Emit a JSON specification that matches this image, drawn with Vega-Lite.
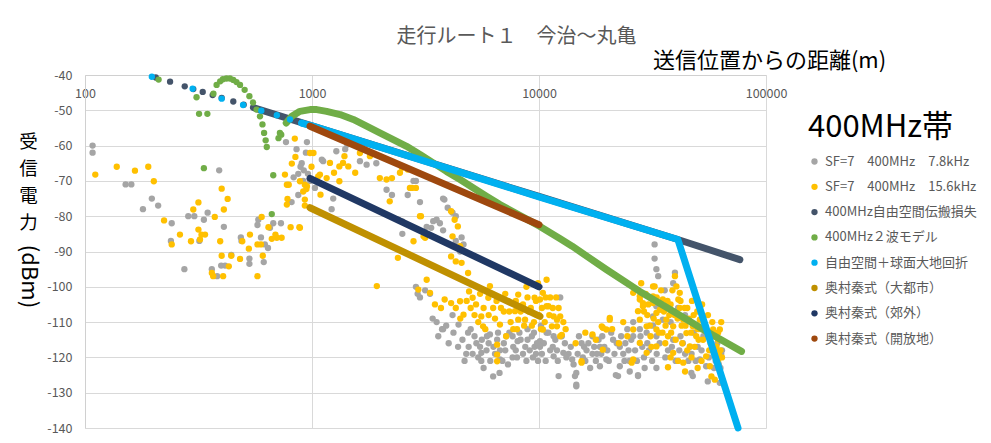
{
  "$schema": "https://vega.github.io/schema/vega-lite/v6.json",
  "width": 681,
  "height": 353,
  "autosize": {"type": "none"},
  "padding": {"left": 85, "top": 75, "right": 225, "bottom": 15},
  "background": "white",
  "config": {
    "font": "Noto Sans CJK JP",
    "view": {"stroke": null}
  },
  "title": {
    "text": "走行ルート１　今治～丸亀",
    "fontSize": 20,
    "fontWeight": "normal",
    "color": "#595959",
    "anchor": "middle",
    "dx": 91,
    "offset": 2
  },
  "datasets": {
    "measured": [
      {"s":"SF=7　400MHz　7.8kHz","d":108,"v":-60},{"s":"SF=7　400MHz　7.8kHz","d":108,"v":-62},{"s":"SF=7　400MHz　7.8kHz","d":151,"v":-71},{"s":"SF=7　400MHz　7.8kHz","d":160,"v":-71},{"s":"SF=7　400MHz　7.8kHz","d":180,"v":-78},{"s":"SF=7　400MHz　7.8kHz","d":197,"v":-75},{"s":"SF=7　400MHz　7.8kHz","d":210,"v":-77},{"s":"SF=7　400MHz　7.8kHz","d":241,"v":-82},{"s":"SF=7　400MHz　7.8kHz","d":239,"v":-87},{"s":"SF=7　400MHz　7.8kHz","d":274,"v":-95},{"s":"SF=7　400MHz　7.8kHz","d":285,"v":-80},{"s":"SF=7　400MHz　7.8kHz","d":303,"v":-80},{"s":"SF=7　400MHz　7.8kHz","d":319,"v":-87},{"s":"SF=7　400MHz　7.8kHz","d":334,"v":-81},{"s":"SF=7　400MHz　7.8kHz","d":347,"v":-79},{"s":"SF=7　400MHz　7.8kHz","d":390,"v":-67},{"s":"SF=7　400MHz　7.8kHz","d":409,"v":-83},{"s":"SF=7　400MHz　7.8kHz","d":398,"v":-94},{"s":"SF=7　400MHz　7.8kHz","d":414,"v":-94},{"s":"SF=7　400MHz　7.8kHz","d":362,"v":-95},{"s":"SF=7　400MHz　7.8kHz","d":382,"v":-97},{"s":"SF=7　400MHz　7.8kHz","d":441,"v":-91},{"s":"SF=7　400MHz　7.8kHz","d":486,"v":-86},{"s":"SF=7　400MHz　7.8kHz","d":489,"v":-87},{"s":"SF=7　400MHz　7.8kHz","d":530,"v":-92},{"s":"SF=7　400MHz　7.8kHz","d":530,"v":-93.5},{"s":"SF=7　400MHz　7.8kHz","d":613,"v":-93},{"s":"SF=7　400MHz　7.8kHz","d":580,"v":-81},{"s":"SF=7　400MHz　7.8kHz","d":575,"v":-82.5},{"s":"SF=7　400MHz　7.8kHz","d":596,"v":-86},{"s":"SF=7　400MHz　7.8kHz","d":620,"v":-88},{"s":"SF=7　400MHz　7.8kHz","d":640,"v":-89},{"s":"SF=7　400MHz　7.8kHz","d":675,"v":-82},{"s":"SF=7　400MHz　7.8kHz","d":730,"v":-82},{"s":"SF=7　400MHz　7.8kHz","d":653,"v":-83.3},
      {"s":"SF=7　400MHz　7.8kHz","d":768,"v":-59},{"s":"SF=7　400MHz　7.8kHz","d":855,"v":-61},{"s":"SF=7　400MHz　7.8kHz","d":950,"v":-59},{"s":"SF=7　400MHz　7.8kHz","d":940,"v":-62},{"s":"SF=7　400MHz　7.8kHz","d":901,"v":-65},{"s":"SF=7　400MHz　7.8kHz","d":870,"v":-68},{"s":"SF=7　400MHz　7.8kHz","d":830,"v":-69},{"s":"SF=7　400MHz　7.8kHz","d":915,"v":-70},{"s":"SF=7　400MHz　7.8kHz","d":870,"v":-74},{"s":"SF=7　400MHz　7.8kHz","d":813,"v":-76},{"s":"SF=7　400MHz　7.8kHz","d":1030,"v":-72},{"s":"SF=7　400MHz　7.8kHz","d":1105,"v":-64},{"s":"SF=7　400MHz　7.8kHz","d":890,"v":-66},{"s":"SF=7　400MHz　7.8kHz","d":920,"v":-67},{"s":"SF=7　400MHz　7.8kHz","d":960,"v":-68},{"s":"SF=7　400MHz　7.8kHz","d":980,"v":-70},{"s":"SF=7　400MHz　7.8kHz","d":1120,"v":-64.4},{"s":"SF=7　400MHz　7.8kHz","d":1240,"v":-75},{"s":"SF=7　400MHz　7.8kHz","d":1220,"v":-78},{"s":"SF=7　400MHz　7.8kHz","d":1280,"v":-61.6},{"s":"SF=7　400MHz　7.8kHz","d":1400,"v":-61},{"s":"SF=7　400MHz　7.8kHz","d":1430,"v":-59.7},{"s":"SF=7　400MHz　7.8kHz","d":1626,"v":-64.4},{"s":"SF=7　400MHz　7.8kHz","d":1740,"v":-65.4},{"s":"SF=7　400MHz　7.8kHz","d":1920,"v":-65},{"s":"SF=7　400MHz　7.8kHz","d":2130,"v":-72.5},{"s":"SF=7　400MHz　7.8kHz","d":2250,"v":-74},{"s":"SF=7　400MHz　7.8kHz","d":2640,"v":-74},{"s":"SF=7　400MHz　7.8kHz","d":2800,"v":-70},{"s":"SF=7　400MHz　7.8kHz","d":2870,"v":-70},{"s":"SF=7　400MHz　7.8kHz","d":2990,"v":-76},{"s":"SF=7　400MHz　7.8kHz","d":2400,"v":-81},{"s":"SF=7　400MHz　7.8kHz","d":2500,"v":-81.5},{"s":"SF=7　400MHz　7.8kHz","d":2500,"v":-85},{"s":"SF=7　400MHz　7.8kHz","d":3200,"v":-83},{"s":"SF=7　400MHz　7.8kHz","d":3350,"v":-83.3},{"s":"SF=7　400MHz　7.8kHz","d":3540,"v":-81},{"s":"SF=7　400MHz　7.8kHz","d":3660,"v":-82},{"s":"SF=7　400MHz　7.8kHz","d":3830,"v":-75.3},{"s":"SF=7　400MHz　7.8kHz","d":3960,"v":-77.6},{"s":"SF=7　400MHz　7.8kHz","d":4160,"v":-79},{"s":"SF=7　400MHz　7.8kHz","d":4300,"v":-80},{"s":"SF=7　400MHz　7.8kHz","d":4560,"v":-86},{"s":"SF=7　400MHz　7.8kHz","d":4650,"v":-88},{"s":"SF=7　400MHz　7.8kHz","d":4490,"v":-90},{"s":"SF=7　400MHz　7.8kHz","d":3780,"v":-75},{"s":"SF=7　400MHz　7.8kHz","d":3420,"v":-81.4},{"s":"SF=7　400MHz　7.8kHz","d":3780,"v":-84},{"s":"SF=7　400MHz　7.8kHz","d":4300,"v":-87},
      {"s":"SF=7　400MHz　7.8kHz","d":2870,"v":-100},{"s":"SF=7　400MHz　7.8kHz","d":2990,"v":-103},{"s":"SF=7　400MHz　7.8kHz","d":2920,"v":-102},{"s":"SF=7　400MHz　7.8kHz","d":3310,"v":-102},{"s":"SF=7　400MHz　7.8kHz","d":3540,"v":-110},{"s":"SF=7　400MHz　7.8kHz","d":3740,"v":-112},{"s":"SF=7　400MHz　7.8kHz","d":4160,"v":-108},{"s":"SF=7　400MHz　7.8kHz","d":4780,"v":-119},{"s":"SF=7　400MHz　7.8kHz","d":5570,"v":-118.7},{"s":"SF=7　400MHz　7.8kHz","d":5570,"v":-121},{"s":"SF=7　400MHz　7.8kHz","d":5500,"v":-117},{"s":"SF=7　400MHz　7.8kHz","d":6280,"v":-125.4},{"s":"SF=7　400MHz　7.8kHz","d":6700,"v":-124.4},{"s":"SF=7　400MHz　7.8kHz","d":6730,"v":-118},{"s":"SF=7　400MHz　7.8kHz","d":7650,"v":-120},{"s":"SF=7　400MHz　7.8kHz","d":7650,"v":-114},{"s":"SF=7　400MHz　7.8kHz","d":3150,"v":-101},{"s":"SF=7　400MHz　7.8kHz","d":3780,"v":-112},{"s":"SF=7　400MHz　7.8kHz","d":4420,"v":-110.7},{"s":"SF=7　400MHz　7.8kHz","d":4870,"v":-113},{"s":"SF=7　400MHz　7.8kHz","d":5870,"v":-118},{"s":"SF=7　400MHz　7.8kHz","d":6540,"v":-115},{"s":"SF=7　400MHz　7.8kHz","d":7170,"v":-114},{"s":"SF=7　400MHz　7.8kHz","d":8050,"v":-115.4},{"s":"SF=7　400MHz　7.8kHz","d":8900,"v":-115},{"s":"SF=7　400MHz　7.8kHz","d":9560,"v":-117},{"s":"SF=7　400MHz　7.8kHz","d":10100,"v":-115.4},{"s":"SF=7　400MHz　7.8kHz","d":10800,"v":-113},{"s":"SF=7　400MHz　7.8kHz","d":11600,"v":-114},{"s":"SF=7　400MHz　7.8kHz","d":6730,"v":-120.6},{"s":"SF=7　400MHz　7.8kHz","d":6080,"v":-113.5},{"s":"SF=7　400MHz　7.8kHz","d":5000,"v":-112},{"s":"SF=7　400MHz　7.8kHz","d":5300,"v":-116},{"s":"SF=7　400MHz　7.8kHz","d":5900,"v":-114},{"s":"SF=7　400MHz　7.8kHz","d":6300,"v":-117},{"s":"SF=7　400MHz　7.8kHz","d":7000,"v":-116},{"s":"SF=7　400MHz　7.8kHz","d":7400,"v":-113},{"s":"SF=7　400MHz　7.8kHz","d":7900,"v":-118},{"s":"SF=7　400MHz　7.8kHz","d":8300,"v":-115},{"s":"SF=7　400MHz　7.8kHz","d":8700,"v":-117},{"s":"SF=7　400MHz　7.8kHz","d":9300,"v":-114},{"s":"SF=7　400MHz　7.8kHz","d":9700,"v":-119},{"s":"SF=7　400MHz　7.8kHz","d":10500,"v":-116},{"s":"SF=7　400MHz　7.8kHz","d":11000,"v":-113},{"s":"SF=7　400MHz　7.8kHz","d":8900,"v":-112},{"s":"SF=7　400MHz　7.8kHz","d":9500,"v":-113},{"s":"SF=7　400MHz　7.8kHz","d":10200,"v":-111},{"s":"SF=7　400MHz　7.8kHz","d":11500,"v":-117},{"s":"SF=7　400MHz　7.8kHz","d":12000,"v":-118},{"s":"SF=7　400MHz　7.8kHz","d":13000,"v":-116},{"s":"SF=7　400MHz　7.8kHz","d":13500,"v":-119},{"s":"SF=7　400MHz　7.8kHz","d":12400,"v":-103},
      {"s":"SF=7　400MHz　7.8kHz","d":3400,"v":-109},{"s":"SF=7　400MHz　7.8kHz","d":3600,"v":-114},{"s":"SF=7　400MHz　7.8kHz","d":3900,"v":-111},{"s":"SF=7　400MHz　7.8kHz","d":4000,"v":-116},{"s":"SF=7　400MHz　7.8kHz","d":4200,"v":-113},{"s":"SF=7　400MHz　7.8kHz","d":4400,"v":-117},{"s":"SF=7　400MHz　7.8kHz","d":4600,"v":-115},{"s":"SF=7　400MHz　7.8kHz","d":4700,"v":-121},{"s":"SF=7　400MHz　7.8kHz","d":4900,"v":-117},{"s":"SF=7　400MHz　7.8kHz","d":5100,"v":-119},{"s":"SF=7　400MHz　7.8kHz","d":5200,"v":-114},{"s":"SF=7　400MHz　7.8kHz","d":5400,"v":-120},{"s":"SF=7　400MHz　7.8kHz","d":5600,"v":-115},{"s":"SF=7　400MHz　7.8kHz","d":5700,"v":-123},{"s":"SF=7　400MHz　7.8kHz","d":6000,"v":-116},{"s":"SF=7　400MHz　7.8kHz","d":6100,"v":-121},{"s":"SF=7　400MHz　7.8kHz","d":6400,"v":-119},{"s":"SF=7　400MHz　7.8kHz","d":6600,"v":-113},{"s":"SF=7　400MHz　7.8kHz","d":6900,"v":-121},{"s":"SF=7　400MHz　7.8kHz","d":7100,"v":-118},{"s":"SF=7　400MHz　7.8kHz","d":7300,"v":-122},{"s":"SF=7　400MHz　7.8kHz","d":7700,"v":-117},{"s":"SF=7　400MHz　7.8kHz","d":8000,"v":-120},{"s":"SF=7　400MHz　7.8kHz","d":8200,"v":-113},{"s":"SF=7　400MHz　7.8kHz","d":8500,"v":-119},{"s":"SF=7　400MHz　7.8kHz","d":8800,"v":-121},{"s":"SF=7　400MHz　7.8kHz","d":9100,"v":-118},{"s":"SF=7　400MHz　7.8kHz","d":9400,"v":-120},{"s":"SF=7　400MHz　7.8kHz","d":9800,"v":-116},{"s":"SF=7　400MHz　7.8kHz","d":9900,"v":-121},
      {"s":"SF=7　400MHz　7.8kHz","d":10300,"v":-119},{"s":"SF=7　400MHz　7.8kHz","d":10700,"v":-121},{"s":"SF=7　400MHz　7.8kHz","d":11200,"v":-118},{"s":"SF=7　400MHz　7.8kHz","d":11800,"v":-115},{"s":"SF=7　400MHz　7.8kHz","d":12100,"v":-121},{"s":"SF=7　400MHz　7.8kHz","d":12600,"v":-114},{"s":"SF=7　400MHz　7.8kHz","d":13200,"v":-120},{"s":"SF=7　400MHz　7.8kHz","d":13800,"v":-117},{"s":"SF=7　400MHz　7.8kHz","d":14200,"v":-122},{"s":"SF=7　400MHz　7.8kHz","d":14800,"v":-119},{"s":"SF=7　400MHz　7.8kHz","d":15000,"v":-114},{"s":"SF=7　400MHz　7.8kHz","d":15600,"v":-120},{"s":"SF=7　400MHz　7.8kHz","d":16200,"v":-118},{"s":"SF=7　400MHz　7.8kHz","d":16800,"v":-123},{"s":"SF=7　400MHz　7.8kHz","d":17500,"v":-117},{"s":"SF=7　400MHz　7.8kHz","d":17800,"v":-121},{"s":"SF=7　400MHz　7.8kHz","d":18300,"v":-115},{"s":"SF=7　400MHz　7.8kHz","d":18800,"v":-119},{"s":"SF=7　400MHz　7.8kHz","d":19400,"v":-117},{"s":"SF=7　400MHz　7.8kHz","d":20300,"v":-121},{"s":"SF=7　400MHz　7.8kHz","d":20800,"v":-113},{"s":"SF=7　400MHz　7.8kHz","d":21500,"v":-119},{"s":"SF=7　400MHz　7.8kHz","d":22000,"v":-116},{"s":"SF=7　400MHz　7.8kHz","d":23000,"v":-114},{"s":"SF=7　400MHz　7.8kHz","d":23800,"v":-121},{"s":"SF=7　400MHz　7.8kHz","d":24800,"v":-118},{"s":"SF=7　400MHz　7.8kHz","d":25500,"v":-115},{"s":"SF=7　400MHz　7.8kHz","d":26500,"v":-118},{"s":"SF=7　400MHz　7.8kHz","d":27000,"v":-121},{"s":"SF=7　400MHz　7.8kHz","d":28000,"v":-114},
      {"s":"SF=7　400MHz　7.8kHz","d":15400,"v":-116},{"s":"SF=7　400MHz　7.8kHz","d":17200,"v":-114},{"s":"SF=7　400MHz　7.8kHz","d":18550,"v":-117},{"s":"SF=7　400MHz　7.8kHz","d":21200,"v":-115},{"s":"SF=7　400MHz　7.8kHz","d":22700,"v":-117},{"s":"SF=7　400MHz　7.8kHz","d":26000,"v":-114},{"s":"SF=7　400MHz　7.8kHz","d":29800,"v":-113},{"s":"SF=7　400MHz　7.8kHz","d":31800,"v":-111},{"s":"SF=7　400MHz　7.8kHz","d":31800,"v":-108.4},{"s":"SF=7　400MHz　7.8kHz","d":32900,"v":-105.5},{"s":"SF=7　400MHz　7.8kHz","d":35100,"v":-109.3},{"s":"SF=7　400MHz　7.8kHz","d":14600,"v":-128.2},{"s":"SF=7　400MHz　7.8kHz","d":14400,"v":-125.3},{"s":"SF=7　400MHz　7.8kHz","d":18550,"v":-122.5},{"s":"SF=7　400MHz　7.8kHz","d":22300,"v":-125.3},{"s":"SF=7　400MHz　7.8kHz","d":27300,"v":-125.3},{"s":"SF=7　400MHz　7.8kHz","d":32900,"v":-123},{"s":"SF=7　400MHz　7.8kHz","d":47600,"v":-125.3},{"s":"SF=7　400MHz　7.8kHz","d":32300,"v":-88},{"s":"SF=7　400MHz　7.8kHz","d":32300,"v":-92},{"s":"SF=7　400MHz　7.8kHz","d":32900,"v":-95},{"s":"SF=7　400MHz　7.8kHz","d":33500,"v":-97},{"s":"SF=7　400MHz　7.8kHz","d":39700,"v":-96},{"s":"SF=7　400MHz　7.8kHz","d":39000,"v":-99},{"s":"SF=7　400MHz　7.8kHz","d":35800,"v":-101},
      {"s":"SF=7　400MHz　7.8kHz","d":12200,"v":-125.3},{"s":"SF=7　400MHz　7.8kHz","d":14600,"v":-127.7},{"s":"SF=7　400MHz　7.8kHz","d":21800,"v":-125},{"s":"SF=7　400MHz　7.8kHz","d":25100,"v":-124},{"s":"SF=7　400MHz　7.8kHz","d":27300,"v":-125},{"s":"SF=7　400MHz　7.8kHz","d":29200,"v":-123},{"s":"SF=7　400MHz　7.8kHz","d":46900,"v":-124.4},{"s":"SF=7　400MHz　7.8kHz","d":55400,"v":-126.8},{"s":"SF=7　400MHz　7.8kHz","d":62600,"v":-127.2},{"s":"SF=7　400MHz　7.8kHz","d":27800,"v":-112},{"s":"SF=7　400MHz　7.8kHz","d":32900,"v":-114},{"s":"SF=7　400MHz　7.8kHz","d":39000,"v":-115},{"s":"SF=7　400MHz　7.8kHz","d":46200,"v":-117},{"s":"SF=7　400MHz　7.8kHz","d":51100,"v":-120.6},{"s":"SF=7　400MHz　7.8kHz","d":54500,"v":-122.5},{"s":"SF=7　400MHz　7.8kHz","d":10100,"v":-117},{"s":"SF=7　400MHz　7.8kHz","d":11600,"v":-119.7},{"s":"SF=7　400MHz　7.8kHz","d":12800,"v":-118.7},{"s":"SF=7　400MHz　7.8kHz","d":14000,"v":-120.6},{"s":"SF=7　400MHz　7.8kHz","d":15800,"v":-117},{"s":"SF=7　400MHz　7.8kHz","d":17200,"v":-119},{"s":"SF=7　400MHz　7.8kHz","d":19800,"v":-120.6},{"s":"SF=7　400MHz　7.8kHz","d":24500,"v":-112},{"s":"SF=7　400MHz　7.8kHz","d":26000,"v":-110},{"s":"SF=7　400MHz　7.8kHz","d":14600,"v":-124.4},{"s":"SF=7　400MHz　7.8kHz","d":22700,"v":-122.5},
      {"s":"SF=7　400MHz　7.8kHz","d":16000,"v":-121},{"s":"SF=7　400MHz　7.8kHz","d":18000,"v":-119},{"s":"SF=7　400MHz　7.8kHz","d":20000,"v":-118},{"s":"SF=7　400MHz　7.8kHz","d":23500,"v":-119},{"s":"SF=7　400MHz　7.8kHz","d":24000,"v":-116},{"s":"SF=7　400MHz　7.8kHz","d":28500,"v":-117},{"s":"SF=7　400MHz　7.8kHz","d":30000,"v":-116},{"s":"SF=7　400MHz　7.8kHz","d":19000,"v":-114},{"s":"SF=7　400MHz　7.8kHz","d":16500,"v":-116},{"s":"SF=7　400MHz　7.8kHz","d":25000,"v":-121},
      {"s":"SF=7　400MHz　7.8kHz","d":42000,"v":-114},{"s":"SF=7　400MHz　7.8kHz","d":44000,"v":-119},{"s":"SF=7　400MHz　7.8kHz","d":48000,"v":-113},{"s":"SF=7　400MHz　7.8kHz","d":50000,"v":-117},{"s":"SF=7　400MHz　7.8kHz","d":53000,"v":-114},{"s":"SF=7　400MHz　7.8kHz","d":58000,"v":-118},{"s":"SF=7　400MHz　7.8kHz","d":60000,"v":-121},{"s":"SF=7　400MHz　7.8kHz","d":61000,"v":-116},{"s":"SF=7　400MHz　7.8kHz","d":63500,"v":-119},{"s":"SF=7　400MHz　7.8kHz","d":62000,"v":-122},{"s":"SF=7　400MHz　7.8kHz","d":37000,"v":-118},{"s":"SF=7　400MHz　7.8kHz","d":44000,"v":-108},{"s":"SF=7　400MHz　7.8kHz","d":41000,"v":-106},{"s":"SF=7　400MHz　7.8kHz","d":38000,"v":-110},
      {"s":"SF=7　400MHz　7.8kHz","d":29000,"v":-120},{"s":"SF=7　400MHz　7.8kHz","d":30500,"v":-118},{"s":"SF=7　400MHz　7.8kHz","d":31500,"v":-121},{"s":"SF=7　400MHz　7.8kHz","d":33000,"v":-119},{"s":"SF=7　400MHz　7.8kHz","d":34000,"v":-116},{"s":"SF=7　400MHz　7.8kHz","d":36000,"v":-120},{"s":"SF=7　400MHz　7.8kHz","d":38500,"v":-117},{"s":"SF=7　400MHz　7.8kHz","d":40000,"v":-121},{"s":"SF=7　400MHz　7.8kHz","d":41500,"v":-118},{"s":"SF=7　400MHz　7.8kHz","d":43000,"v":-116},{"s":"SF=7　400MHz　7.8kHz","d":45500,"v":-121},{"s":"SF=7　400MHz　7.8kHz","d":47000,"v":-119},{"s":"SF=7　400MHz　7.8kHz","d":49000,"v":-121},{"s":"SF=7　400MHz　7.8kHz","d":52000,"v":-118},{"s":"SF=7　400MHz　7.8kHz","d":56000,"v":-120},{"s":"SF=7　400MHz　7.8kHz","d":59000,"v":-123},{"s":"SF=7　400MHz　7.8kHz","d":60500,"v":-118},{"s":"SF=7　400MHz　7.8kHz","d":63000,"v":-123},{"s":"SF=7　400MHz　7.8kHz","d":64000,"v":-118},
      {"s":"SF=7　400MHz　15.6kHz","d":111,"v":-68.2},{"s":"SF=7　400MHz　15.6kHz","d":138,"v":-66},{"s":"SF=7　400MHz　15.6kHz","d":166,"v":-67.1},{"s":"SF=7　400MHz　15.6kHz","d":190,"v":-66},{"s":"SF=7　400MHz　15.6kHz","d":201,"v":-70.1},{"s":"SF=7　400MHz　15.6kHz","d":223,"v":-81.2},{"s":"SF=7　400MHz　15.6kHz","d":262,"v":-85.2},{"s":"SF=7　400MHz　15.6kHz","d":241,"v":-88},{"s":"SF=7　400MHz　15.6kHz","d":293,"v":-87.1},{"s":"SF=7　400MHz　15.6kHz","d":300,"v":-78.1},{"s":"SF=7　400MHz　15.6kHz","d":316,"v":-76.1},{"s":"SF=7　400MHz　15.6kHz","d":316,"v":-83.8},{"s":"SF=7　400MHz　15.6kHz","d":326,"v":-85.2},{"s":"SF=7　400MHz　15.6kHz","d":321,"v":-86.6},{"s":"SF=7　400MHz　15.6kHz","d":338,"v":-85.2},{"s":"SF=7　400MHz　15.6kHz","d":373,"v":-80.2},{"s":"SF=7　400MHz　15.6kHz","d":400,"v":-72.2},{"s":"SF=7　400MHz　15.6kHz","d":425,"v":-75.1},{"s":"SF=7　400MHz　15.6kHz","d":409,"v":-78.1},{"s":"SF=7　400MHz　15.6kHz","d":394,"v":-87.1},{"s":"SF=7　400MHz　15.6kHz","d":400,"v":-91.2},{"s":"SF=7　400MHz　15.6kHz","d":441,"v":-91.2},{"s":"SF=7　400MHz　15.6kHz","d":430,"v":-94.2},{"s":"SF=7　400MHz　15.6kHz","d":362,"v":-96.1},{"s":"SF=7　400MHz　15.6kHz","d":367,"v":-97},{"s":"SF=7　400MHz　15.6kHz","d":406,"v":-97},{"s":"SF=7　400MHz　15.6kHz","d":482,"v":-92.1},{"s":"SF=7　400MHz　15.6kHz","d":493,"v":-87.1},{"s":"SF=7　400MHz　15.6kHz","d":533,"v":-85.2},{"s":"SF=7　400MHz　15.6kHz","d":527,"v":-89.2},{"s":"SF=7　400MHz　15.6kHz","d":575,"v":-97},{"s":"SF=7　400MHz　15.6kHz","d":575,"v":-88},{"s":"SF=7　400MHz　15.6kHz","d":596,"v":-88},{"s":"SF=7　400MHz　15.6kHz","d":607,"v":-91.2},{"s":"SF=7　400MHz　15.6kHz","d":643,"v":-83.1},{"s":"SF=7　400MHz　15.6kHz","d":665,"v":-86.4},{"s":"SF=7　400MHz　15.6kHz","d":690,"v":-85.2},{"s":"SF=7　400MHz　15.6kHz","d":735,"v":-86.1},{"s":"SF=7　400MHz　15.6kHz","d":700,"v":-86.1},{"s":"SF=7　400MHz　15.6kHz","d":600,"v":-80.2},{"s":"SF=7　400MHz　15.6kHz","d":805,"v":-83.1},{"s":"SF=7　400MHz　15.6kHz","d":880,"v":-83.1},{"s":"SF=7　400MHz　15.6kHz","d":840,"v":-58},{"s":"SF=7　400MHz　15.6kHz","d":845,"v":-63.2},{"s":"SF=7　400MHz　15.6kHz","d":815,"v":-65.1},{"s":"SF=7　400MHz　15.6kHz","d":760,"v":-68.2},{"s":"SF=7　400MHz　15.6kHz","d":980,"v":-62.1},{"s":"SF=7　400MHz　15.6kHz","d":1015,"v":-62.1},{"s":"SF=7　400MHz　15.6kHz","d":995,"v":-66},{"s":"SF=7　400MHz　15.6kHz","d":775,"v":-71.1},{"s":"SF=7　400MHz　15.6kHz","d":790,"v":-71.1},{"s":"SF=7　400MHz　15.6kHz","d":780,"v":-75.1},{"s":"SF=7　400MHz　15.6kHz","d":775,"v":-76.7},{"s":"SF=7　400MHz　15.6kHz","d":930,"v":-71.1},{"s":"SF=7　400MHz　15.6kHz","d":945,"v":-72.3},{"s":"SF=7　400MHz　15.6kHz","d":930,"v":-75.3},{"s":"SF=7　400MHz　15.6kHz","d":930,"v":-77},{"s":"SF=7　400MHz　15.6kHz","d":1065,"v":-68.7},{"s":"SF=7　400MHz　15.6kHz","d":1090,"v":-73.9},
      {"s":"SF=7　400MHz　15.6kHz","d":885,"v":-70.1},{"s":"SF=7　400MHz　15.6kHz","d":950,"v":-71.5},{"s":"SF=7　400MHz　15.6kHz","d":915,"v":-73},{"s":"SF=7　400MHz　15.6kHz","d":885,"v":-83.3},{"s":"SF=7　400MHz　15.6kHz","d":1084,"v":-68.2},{"s":"SF=7　400MHz　15.6kHz","d":1160,"v":-69.2},{"s":"SF=7　400MHz　15.6kHz","d":1200,"v":-64.9},{"s":"SF=7　400MHz　15.6kHz","d":1250,"v":-67.7},{"s":"SF=7　400MHz　15.6kHz","d":1320,"v":-65.9},{"s":"SF=7　400MHz　15.6kHz","d":1370,"v":-64.9},{"s":"SF=7　400MHz　15.6kHz","d":1390,"v":-63},{"s":"SF=7　400MHz　15.6kHz","d":1445,"v":-65.9},{"s":"SF=7　400MHz　15.6kHz","d":1320,"v":-70.1},{"s":"SF=7　400MHz　15.6kHz","d":1626,"v":-62.1},{"s":"SF=7　400MHz　15.6kHz","d":1800,"v":-63},{"s":"SF=7　400MHz　15.6kHz","d":1550,"v":-67.7},{"s":"SF=7　400MHz　15.6kHz","d":1990,"v":-69.2},{"s":"SF=7　400MHz　15.6kHz","d":2130,"v":-69.6},{"s":"SF=7　400MHz　15.6kHz","d":2250,"v":-69.2},{"s":"SF=7　400MHz　15.6kHz","d":2440,"v":-67.7},{"s":"SF=7　400MHz　15.6kHz","d":2490,"v":-66.3},{"s":"SF=7　400MHz　15.6kHz","d":2640,"v":-66.8},{"s":"SF=7　400MHz　15.6kHz","d":2700,"v":-72},{"s":"SF=7　400MHz　15.6kHz","d":2870,"v":-72},{"s":"SF=7　400MHz　15.6kHz","d":2200,"v":-75.8},{"s":"SF=7　400MHz　15.6kHz","d":2990,"v":-80},{"s":"SF=7　400MHz　15.6kHz","d":3100,"v":-85.7},{"s":"SF=7　400MHz　15.6kHz","d":2800,"v":-87.1},{"s":"SF=7　400MHz　15.6kHz","d":2390,"v":-91.8},{"s":"SF=7　400MHz　15.6kHz","d":4100,"v":-78.6},{"s":"SF=7　400MHz　15.6kHz","d":4250,"v":-81},{"s":"SF=7　400MHz　15.6kHz","d":4390,"v":-82.9},{"s":"SF=7　400MHz　15.6kHz","d":4160,"v":-85.7},{"s":"SF=7　400MHz　15.6kHz","d":4490,"v":-88.5},{"s":"SF=7　400MHz　15.6kHz","d":4100,"v":-91.4},{"s":"SF=7　400MHz　15.6kHz","d":4300,"v":-92.8},{"s":"SF=7　400MHz　15.6kHz","d":4560,"v":-93.2},{"s":"SF=7　400MHz　15.6kHz","d":4870,"v":-96.1},{"s":"SF=7　400MHz　15.6kHz","d":1930,"v":-99.8},{"s":"SF=7　400MHz　15.6kHz","d":3200,"v":-98},{"s":"SF=7　400MHz　15.6kHz","d":3310,"v":-101.7},{"s":"SF=7　400MHz　15.6kHz","d":2940,"v":-100.8},{"s":"SF=7　400MHz　15.6kHz","d":3840,"v":-103.6},{"s":"SF=7　400MHz　15.6kHz","d":3480,"v":-105},{"s":"SF=7　400MHz　15.6kHz","d":3700,"v":-106},{"s":"SF=7　400MHz　15.6kHz","d":3150,"v":-86.1},{"s":"SF=7　400MHz　15.6kHz","d":2760,"v":-72},{"s":"SF=7　400MHz　15.6kHz","d":3020,"v":-80},
      {"s":"SF=7　400MHz　15.6kHz","d":4100,"v":-104.6},{"s":"SF=7　400MHz　15.6kHz","d":4490,"v":-104.1},{"s":"SF=7　400MHz　15.6kHz","d":4650,"v":-107.9},{"s":"SF=7　400MHz　15.6kHz","d":4920,"v":-101.3},{"s":"SF=7　400MHz　15.6kHz","d":5100,"v":-103.1},{"s":"SF=7　400MHz　15.6kHz","d":5280,"v":-105},{"s":"SF=7　400MHz　15.6kHz","d":5570,"v":-108.4},{"s":"SF=7　400MHz　15.6kHz","d":5670,"v":-111.2},{"s":"SF=7　400MHz　15.6kHz","d":6080,"v":-99.8},{"s":"SF=7　400MHz　15.6kHz","d":5980,"v":-103.1},{"s":"SF=7　400MHz　15.6kHz","d":6280,"v":-106},{"s":"SF=7　400MHz　15.6kHz","d":6730,"v":-110.7},{"s":"SF=7　400MHz　15.6kHz","d":7170,"v":-114},{"s":"SF=7　400MHz　15.6kHz","d":7840,"v":-106.9},{"s":"SF=7　400MHz　15.6kHz","d":8100,"v":-102.2},{"s":"SF=7　400MHz　15.6kHz","d":8100,"v":-109.3},{"s":"SF=7　400MHz　15.6kHz","d":8680,"v":-109.3},{"s":"SF=7　400MHz　15.6kHz","d":9560,"v":-103.1},{"s":"SF=7　400MHz　15.6kHz","d":10100,"v":-103.6},{"s":"SF=7　400MHz　15.6kHz","d":10800,"v":-98},{"s":"SF=7　400MHz　15.6kHz","d":10400,"v":-101.7},{"s":"SF=7　400MHz　15.6kHz","d":11000,"v":-105.5},{"s":"SF=7　400MHz　15.6kHz","d":11600,"v":-108.4},{"s":"SF=7　400MHz　15.6kHz","d":12000,"v":-111.2},{"s":"SF=7　400MHz　15.6kHz","d":12400,"v":-108.4},{"s":"SF=7　400MHz　15.6kHz","d":12600,"v":-113.6},{"s":"SF=7　400MHz　15.6kHz","d":6540,"v":-119.2},{"s":"SF=7　400MHz　15.6kHz","d":6540,"v":-121.1},{"s":"SF=7　400MHz　15.6kHz","d":6540,"v":-116.4},
      {"s":"SF=7　400MHz　15.6kHz","d":5000,"v":-106},{"s":"SF=7　400MHz　15.6kHz","d":5400,"v":-110},{"s":"SF=7　400MHz　15.6kHz","d":6000,"v":-108},{"s":"SF=7　400MHz　15.6kHz","d":6500,"v":-104},{"s":"SF=7　400MHz　15.6kHz","d":7000,"v":-107},{"s":"SF=7　400MHz　15.6kHz","d":7500,"v":-110},{"s":"SF=7　400MHz　15.6kHz","d":8000,"v":-112},{"s":"SF=7　400MHz　15.6kHz","d":8500,"v":-105},{"s":"SF=7　400MHz　15.6kHz","d":9000,"v":-107},{"s":"SF=7　400MHz　15.6kHz","d":9300,"v":-111},{"s":"SF=7　400MHz　15.6kHz","d":9800,"v":-108},{"s":"SF=7　400MHz　15.6kHz","d":10300,"v":-106},{"s":"SF=7　400MHz　15.6kHz","d":10600,"v":-110},{"s":"SF=7　400MHz　15.6kHz","d":11200,"v":-103},{"s":"SF=7　400MHz　15.6kHz","d":7300,"v":-104},{"s":"SF=7　400MHz　15.6kHz","d":5800,"v":-112},{"s":"SF=7　400MHz　15.6kHz","d":8800,"v":-100},{"s":"SF=7　400MHz　15.6kHz","d":9900,"v":-99},{"s":"SF=7　400MHz　15.6kHz","d":10800,"v":-105.5},{"s":"SF=7　400MHz　15.6kHz","d":10400,"v":-112.1},{"s":"SF=7　400MHz　15.6kHz","d":11400,"v":-111.2},{"s":"SF=7　400MHz　15.6kHz","d":12000,"v":-109.3},{"s":"SF=7　400MHz　15.6kHz","d":12400,"v":-114},
      {"s":"SF=7　400MHz　15.6kHz","d":4300,"v":-106},{"s":"SF=7　400MHz　15.6kHz","d":4500,"v":-109},{"s":"SF=7　400MHz　15.6kHz","d":4800,"v":-104},{"s":"SF=7　400MHz　15.6kHz","d":5200,"v":-108},{"s":"SF=7　400MHz　15.6kHz","d":5500,"v":-102},{"s":"SF=7　400MHz　15.6kHz","d":5700,"v":-106},{"s":"SF=7　400MHz　15.6kHz","d":6200,"v":-102},{"s":"SF=7　400MHz　15.6kHz","d":6400,"v":-109},{"s":"SF=7　400MHz　15.6kHz","d":6800,"v":-106},{"s":"SF=7　400MHz　15.6kHz","d":7100,"v":-102},{"s":"SF=7　400MHz　15.6kHz","d":7400,"v":-107},{"s":"SF=7　400MHz　15.6kHz","d":7700,"v":-112},{"s":"SF=7　400MHz　15.6kHz","d":7900,"v":-104},{"s":"SF=7　400MHz　15.6kHz","d":8300,"v":-107},{"s":"SF=7　400MHz　15.6kHz","d":8600,"v":-111},{"s":"SF=7　400MHz　15.6kHz","d":8900,"v":-103},{"s":"SF=7　400MHz　15.6kHz","d":9200,"v":-106},{"s":"SF=7　400MHz　15.6kHz","d":9500,"v":-110},{"s":"SF=7　400MHz　15.6kHz","d":9700,"v":-104},{"s":"SF=7　400MHz　15.6kHz","d":10000,"v":-108},{"s":"SF=7　400MHz　15.6kHz","d":10200,"v":-112},{"s":"SF=7　400MHz　15.6kHz","d":10700,"v":-103},{"s":"SF=7　400MHz　15.6kHz","d":11100,"v":-108},{"s":"SF=7　400MHz　15.6kHz","d":11500,"v":-106},{"s":"SF=7　400MHz　15.6kHz","d":11900,"v":-103},{"s":"SF=7　400MHz　15.6kHz","d":12200,"v":-106},{"s":"SF=7　400MHz　15.6kHz","d":12800,"v":-110},{"s":"SF=7　400MHz　15.6kHz","d":13100,"v":-112},
      {"s":"SF=7　400MHz　15.6kHz","d":14500,"v":-116},{"s":"SF=7　400MHz　15.6kHz","d":16000,"v":-113},{"s":"SF=7　400MHz　15.6kHz","d":17800,"v":-115},{"s":"SF=7　400MHz　15.6kHz","d":21000,"v":-112},{"s":"SF=7　400MHz　15.6kHz","d":22500,"v":-116},{"s":"SF=7　400MHz　15.6kHz","d":23500,"v":-110},
      {"s":"SF=7　400MHz　15.6kHz","d":15400,"v":-121.1},{"s":"SF=7　400MHz　15.6kHz","d":17200,"v":-113.5},{"s":"SF=7　400MHz　15.6kHz","d":19100,"v":-111.6},{"s":"SF=7　400MHz　15.6kHz","d":20500,"v":-108.8},{"s":"SF=7　400MHz　15.6kHz","d":15400,"v":-121.5},{"s":"SF=7　400MHz　15.6kHz","d":18900,"v":-111.2},{"s":"SF=7　400MHz　15.6kHz","d":20500,"v":-109.3},{"s":"SF=7　400MHz　15.6kHz","d":19800,"v":-112.1},{"s":"SF=7　400MHz　15.6kHz","d":19100,"v":-117.8},{"s":"SF=7　400MHz　15.6kHz","d":24500,"v":-114},{"s":"SF=7　400MHz　15.6kHz","d":26000,"v":-112.1},{"s":"SF=7　400MHz　15.6kHz","d":25600,"v":-121.5},{"s":"SF=7　400MHz　15.6kHz","d":27800,"v":-115.9},{"s":"SF=7　400MHz　15.6kHz","d":26000,"v":-101.7},{"s":"SF=7　400MHz　15.6kHz","d":27800,"v":-103.6},{"s":"SF=7　400MHz　15.6kHz","d":28700,"v":-105.5},{"s":"SF=7　400MHz　15.6kHz","d":31800,"v":-99.9},{"s":"SF=7　400MHz　15.6kHz","d":31800,"v":-102.7},
      {"s":"SF=7　400MHz　15.6kHz","d":27800,"v":-102.7},{"s":"SF=7　400MHz　15.6kHz","d":28700,"v":-104.6},{"s":"SF=7　400MHz　15.6kHz","d":27300,"v":-106.9},{"s":"SF=7　400MHz　15.6kHz","d":27800,"v":-109.3},{"s":"SF=7　400MHz　15.6kHz","d":29800,"v":-111.2},{"s":"SF=7　400MHz　15.6kHz","d":31800,"v":-104.6},{"s":"SF=7　400MHz　15.6kHz","d":32300,"v":-99.9},{"s":"SF=7　400MHz　15.6kHz","d":34100,"v":-106.5},{"s":"SF=7　400MHz　15.6kHz","d":32900,"v":-112.1},{"s":"SF=7　400MHz　15.6kHz","d":36400,"v":-109.3},{"s":"SF=7　400MHz　15.6kHz","d":37000,"v":-114},{"s":"SF=7　400MHz　15.6kHz","d":39000,"v":-111.2},{"s":"SF=7　400MHz　15.6kHz","d":39700,"v":-97},{"s":"SF=7　400MHz　15.6kHz","d":40300,"v":-99.9},{"s":"SF=7　400MHz　15.6kHz","d":41100,"v":-103.6},{"s":"SF=7　400MHz　15.6kHz","d":41700,"v":-106},{"s":"SF=7　400MHz　15.6kHz","d":43200,"v":-109.3},{"s":"SF=7　400MHz　15.6kHz","d":44600,"v":-113.1},{"s":"SF=7　400MHz　15.6kHz","d":46200,"v":-116.9},{"s":"SF=7　400MHz　15.6kHz","d":47600,"v":-111.2},{"s":"SF=7　400MHz　15.6kHz","d":49300,"v":-114},{"s":"SF=7　400MHz　15.6kHz","d":51100,"v":-109.3},{"s":"SF=7　400MHz　15.6kHz","d":52800,"v":-115},{"s":"SF=7　400MHz　15.6kHz","d":54500,"v":-119.7},{"s":"SF=7　400MHz　15.6kHz","d":56600,"v":-122.5},{"s":"SF=7　400MHz　15.6kHz","d":58500,"v":-112.1},{"s":"SF=7　400MHz　15.6kHz","d":60500,"v":-116.9},{"s":"SF=7　400MHz　15.6kHz","d":62600,"v":-112.1},{"s":"SF=7　400MHz　15.6kHz","d":37000,"v":-122.8},{"s":"SF=7　400MHz　15.6kHz","d":43200,"v":-121.5},{"s":"SF=7　400MHz　15.6kHz","d":39000,"v":-118.7},{"s":"SF=7　400MHz　15.6kHz","d":32900,"v":-116.9},{"s":"SF=7　400MHz　15.6kHz","d":29800,"v":-118.7},{"s":"SF=7　400MHz　15.6kHz","d":26000,"v":-120.6},{"s":"SF=7　400MHz　15.6kHz","d":41700,"v":-101.7},{"s":"SF=7　400MHz　15.6kHz","d":32900,"v":-107.4},{"s":"SF=7　400MHz　15.6kHz","d":35100,"v":-103.6},{"s":"SF=7　400MHz　15.6kHz","d":57500,"v":-125.4},{"s":"SF=7　400MHz　15.6kHz","d":59500,"v":-126.3},
      {"s":"SF=7　400MHz　15.6kHz","d":30000,"v":-108},{"s":"SF=7　400MHz　15.6kHz","d":33500,"v":-110},{"s":"SF=7　400MHz　15.6kHz","d":35000,"v":-113},{"s":"SF=7　400MHz　15.6kHz","d":38000,"v":-105},{"s":"SF=7　400MHz　15.6kHz","d":42500,"v":-111},{"s":"SF=7　400MHz　15.6kHz","d":45000,"v":-106},{"s":"SF=7　400MHz　15.6kHz","d":48000,"v":-108},{"s":"SF=7　400MHz　15.6kHz","d":50000,"v":-112},{"s":"SF=7　400MHz　15.6kHz","d":53000,"v":-110},{"s":"SF=7　400MHz　15.6kHz","d":55000,"v":-113},{"s":"SF=7　400MHz　15.6kHz","d":57000,"v":-116},{"s":"SF=7　400MHz　15.6kHz","d":60000,"v":-119},{"s":"SF=7　400MHz　15.6kHz","d":61500,"v":-115},{"s":"SF=7　400MHz　15.6kHz","d":63000,"v":-118},{"s":"SF=7　400MHz　15.6kHz","d":61500,"v":-121},{"s":"SF=7　400MHz　15.6kHz","d":45000,"v":-118},{"s":"SF=7　400MHz　15.6kHz","d":36000,"v":-116},{"s":"SF=7　400MHz　15.6kHz","d":31000,"v":-114},
      {"s":"SF=7　400MHz　15.6kHz","d":28200,"v":-99},{"s":"SF=7　400MHz　15.6kHz","d":29000,"v":-107},{"s":"SF=7　400MHz　15.6kHz","d":29500,"v":-102},{"s":"SF=7　400MHz　15.6kHz","d":30300,"v":-105},{"s":"SF=7　400MHz　15.6kHz","d":30800,"v":-111},{"s":"SF=7　400MHz　15.6kHz","d":31300,"v":-117},{"s":"SF=7　400MHz　15.6kHz","d":32000,"v":-109},{"s":"SF=7　400MHz　15.6kHz","d":33000,"v":-103},{"s":"SF=7　400MHz　15.6kHz","d":33800,"v":-113},{"s":"SF=7　400MHz　15.6kHz","d":34500,"v":-101},{"s":"SF=7　400MHz　15.6kHz","d":35500,"v":-107},{"s":"SF=7　400MHz　15.6kHz","d":36100,"v":-111},{"s":"SF=7　400MHz　15.6kHz","d":36800,"v":-104},{"s":"SF=7　400MHz　15.6kHz","d":37500,"v":-108},{"s":"SF=7　400MHz　15.6kHz","d":38200,"v":-113},{"s":"SF=7　400MHz　15.6kHz","d":38700,"v":-101},{"s":"SF=7　400MHz　15.6kHz","d":39500,"v":-108},{"s":"SF=7　400MHz　15.6kHz","d":40000,"v":-115},{"s":"SF=7　400MHz　15.6kHz","d":40800,"v":-109},{"s":"SF=7　400MHz　15.6kHz","d":42000,"v":-104},{"s":"SF=7　400MHz　15.6kHz","d":42800,"v":-116},{"s":"SF=7　400MHz　15.6kHz","d":43800,"v":-106},{"s":"SF=7　400MHz　15.6kHz","d":44200,"v":-111},{"s":"SF=7　400MHz　15.6kHz","d":45800,"v":-109},{"s":"SF=7　400MHz　15.6kHz","d":46700,"v":-113},{"s":"SF=7　400MHz　15.6kHz","d":47200,"v":-104},{"s":"SF=7　400MHz　15.6kHz","d":48500,"v":-117},{"s":"SF=7　400MHz　15.6kHz","d":49800,"v":-107},{"s":"SF=7　400MHz　15.6kHz","d":50500,"v":-115},{"s":"SF=7　400MHz　15.6kHz","d":51800,"v":-112},{"s":"SF=7　400MHz　15.6kHz","d":52300,"v":-105},{"s":"SF=7　400MHz　15.6kHz","d":54000,"v":-111},{"s":"SF=7　400MHz　15.6kHz","d":55500,"v":-108},{"s":"SF=7　400MHz　15.6kHz","d":56200,"v":-118},{"s":"SF=7　400MHz　15.6kHz","d":58000,"v":-110},{"s":"SF=7　400MHz　15.6kHz","d":59000,"v":-114},{"s":"SF=7　400MHz　15.6kHz","d":61500,"v":-113},{"s":"SF=7　400MHz　15.6kHz","d":62000,"v":-119},{"s":"SF=7　400MHz　15.6kHz","d":63500,"v":-110},{"s":"SF=7　400MHz　15.6kHz","d":64000,"v":-120},{"s":"SF=7　400MHz　15.6kHz","d":38000,"v":-120},{"s":"SF=7　400MHz　15.6kHz","d":41000,"v":-121},{"s":"SF=7　400MHz　15.6kHz","d":47000,"v":-120},{"s":"SF=7　400MHz　15.6kHz","d":52000,"v":-121},{"s":"SF=7　400MHz　15.6kHz","d":44000,"v":-124},{"s":"SF=7　400MHz　15.6kHz","d":50000,"v":-123}
    ],
    "baseLines": [
      {"s":"400MHz自由空間伝搬損失","d":560,"v":-49.4},{"s":"400MHz自由空間伝搬損失","d":1000,"v":-54.4},{"s":"400MHz自由空間伝搬損失","d":10000,"v":-74.4},{"s":"400MHz自由空間伝搬損失","d":40900,"v":-86.6},{"s":"400MHz自由空間伝搬損失","d":76700,"v":-92.3},
      {"s":"400MHz２波モデル","d":770,"v":-53.6},{"s":"400MHz２波モデル","d":815,"v":-51.7},{"s":"400MHz２波モデル","d":885,"v":-50.3},{"s":"400MHz２波モデル","d":980,"v":-49.8},{"s":"400MHz２波モデル","d":1050,"v":-49.8},{"s":"400MHz２波モデル","d":1160,"v":-50.3},{"s":"400MHz２波モデル","d":1330,"v":-51.2},{"s":"400MHz２波モデル","d":1520,"v":-52.6},{"s":"400MHz２波モデル","d":1740,"v":-54.5},{"s":"400MHz２波モデル","d":1990,"v":-56.4},{"s":"400MHz２波モデル","d":2280,"v":-58.3},{"s":"400MHz２波モデル","d":2610,"v":-60.2},{"s":"400MHz２波モデル","d":2990,"v":-62.5},{"s":"400MHz２波モデル","d":3420,"v":-64.9},{"s":"400MHz２波モデル","d":3910,"v":-67.3},{"s":"400MHz２波モデル","d":4490,"v":-69.6},{"s":"400MHz２波モデル","d":5140,"v":-72},{"s":"400MHz２波モデル","d":5890,"v":-74.4},{"s":"400MHz２波モデル","d":6730,"v":-76.7},{"s":"400MHz２波モデル","d":10100,"v":-82.9},{"s":"400MHz２波モデル","d":12400,"v":-86.4},{"s":"400MHz２波モデル","d":14000,"v":-88.5},{"s":"400MHz２波モデル","d":19800,"v":-95.1},{"s":"400MHz２波モデル","d":27800,"v":-101.3},{"s":"400MHz２波モデル","d":39000,"v":-106.9},{"s":"400MHz２波モデル","d":54500,"v":-112.6},{"s":"400MHz２波モデル","d":78000,"v":-118.3},
      {"s":"自由空間＋球面大地回折","d":900,"v":-53.6},{"s":"自由空間＋球面大地回折","d":1000,"v":-54.4},{"s":"自由空間＋球面大地回折","d":10000,"v":-74.5},{"s":"自由空間＋球面大地回折","d":40900,"v":-86.6},{"s":"自由空間＋球面大地回折","d":75300,"v":-140}
    ],
    "okumuraLines": [
      {"s":"奥村秦式（大都市）","d":980,"v":-77.6},{"s":"奥村秦式（大都市）","d":10100,"v":-108.4},
      {"s":"奥村秦式（郊外）","d":980,"v":-69.3},{"s":"奥村秦式（郊外）","d":10000,"v":-100},
      {"s":"奥村秦式（開放地）","d":980,"v":-54.5},{"s":"奥村秦式（開放地）","d":10000,"v":-82.4}
    ],
    "modelDots": [
      {"s":"400MHz自由空間伝搬損失","d":205,"v":-40.7},{"s":"400MHz自由空間伝搬損失","d":237,"v":-41.9},{"s":"400MHz自由空間伝搬損失","d":275,"v":-43.2},{"s":"400MHz自由空間伝搬損失","d":300,"v":-44},{"s":"400MHz自由空間伝搬損失","d":330,"v":-44.8},{"s":"400MHz自由空間伝搬損失","d":365,"v":-45.7},{"s":"400MHz自由空間伝搬損失","d":400,"v":-46.5},{"s":"400MHz自由空間伝搬損失","d":450,"v":-47.5},{"s":"400MHz自由空間伝搬損失","d":500,"v":-48.4},{"s":"400MHz自由空間伝搬損失","d":550,"v":-49.2},
      {"s":"400MHz２波モデル","d":211,"v":-41.3},{"s":"400MHz２波モデル","d":310,"v":-46.3},{"s":"400MHz２波モデル","d":318,"v":-51},{"s":"400MHz２波モデル","d":346,"v":-51},{"s":"400MHz２波モデル","d":334,"v":-66.4},{"s":"400MHz２波モデル","d":368,"v":-45.3},{"s":"400MHz２波モデル","d":380,"v":-42.8},{"s":"400MHz２波モデル","d":394,"v":-41.8},{"s":"400MHz２波モデル","d":405,"v":-41.2},{"s":"400MHz２波モデル","d":420,"v":-41},{"s":"400MHz２波モデル","d":435,"v":-41},{"s":"400MHz２波モデル","d":450,"v":-41.4},{"s":"400MHz２波モデル","d":465,"v":-42},{"s":"400MHz２波モデル","d":482,"v":-42.8},{"s":"400MHz２波モデル","d":505,"v":-44.2},{"s":"400MHz２波モデル","d":530,"v":-46},{"s":"400MHz２波モデル","d":550,"v":-47.8},{"s":"400MHz２波モデル","d":570,"v":-49.8},{"s":"400MHz２波モデル","d":590,"v":-51.7},{"s":"400MHz２波モデル","d":605,"v":-54},{"s":"400MHz２波モデル","d":615,"v":-56.4},{"s":"400MHz２波モデル","d":625,"v":-58.5},{"s":"400MHz２波モデル","d":632,"v":-60.4},{"s":"400MHz２波モデル","d":665,"v":-79.4},{"s":"400MHz２波モデル","d":675,"v":-68.4},{"s":"400MHz２波モデル","d":712,"v":-57.9},{"s":"400MHz２波モデル","d":722,"v":-56.4},{"s":"400MHz２波モデル","d":732,"v":-56.9},
      {"s":"自由空間＋球面大地回折","d":197,"v":-40.5},{"s":"自由空間＋球面大地回折","d":298,"v":-43.9},{"s":"自由空間＋球面大地回折","d":400,"v":-46.7},{"s":"自由空間＋球面大地回折","d":497,"v":-48.5},{"s":"自由空間＋球面大地回折","d":598,"v":-50.1},{"s":"自由空間＋球面大地回折","d":700,"v":-51.4},{"s":"自由空間＋球面大地回折","d":800,"v":-52.6},{"s":"自由空間＋球面大地回折","d":900,"v":-53.6}
    ]
  },
  "resolve": {"axis": {"y": "independent"}},
  "layer": [
    {
      "data": {"name": "measured"},
      "mark": {"type": "point", "filled": true, "size": 40, "opacity": 1, "strokeWidth": 0},
      "encoding": {
        "x": {
          "field": "d", "type": "quantitative", "title": "送信位置からの距離(m)",
          "scale": {"type": "log", "domain": [100, 100000], "nice": false},
          "axis": {
            "orient": "top", "values": [100, 1000, 10000, 100000], "labelExpr": "'' + datum.value",
            "ticks": false, "tickSize": 0, "domain": true, "domainColor": "#D0D0D0",
            "grid": true, "gridColor": "#D9D9D9",
            "labelPadding": -18, "labelBaseline": "middle", "labelFlush": false, "labelOverlap": false,
            "labelFontSize": 12.5, "labelColor": "#595959",
            "titleFontSize": 22, "titleFontWeight": "normal", "titleColor": "#000000",
            "titleX": 684, "titleY": -8, "titleAlign": "center", "titleBaseline": "alphabetic"
          }
        },
        "y": {
          "field": "v", "type": "quantitative",
          "scale": {"domain": [-140, -40], "nice": false},
          "axis": {
            "orient": "left", "values": [-140, -130, -120, -110, -100, -90, -80, -70, -60, -50, -40],
            "labelExpr": "'' + datum.value",
            "ticks": false, "tickSize": 0, "domain": true, "domainColor": "#D0D0D0",
            "grid": true, "gridColor": "#D9D9D9",
            "labelPadding": 13, "labelFontSize": 12.5, "labelColor": "#595959",
            "title": ["受", "信", "電", "力"], "titleAngle": 0, "titleFontSize": 18.5, "titleLineHeight": 27,
            "titleFontWeight": "normal", "titleColor": "#000000",
            "titleX": -57, "titleY": 57, "titleAlign": "center", "titleBaseline": "top"
          }
        },
        "color": {
          "field": "s", "type": "nominal",
          "scale": {
            "domain": ["SF=7　400MHz　7.8kHz", "SF=7　400MHz　15.6kHz", "400MHz自由空間伝搬損失", "400MHz２波モデル", "自由空間＋球面大地回折", "奥村秦式（大都市）", "奥村秦式（郊外）", "奥村秦式（開放地）"],
            "range": ["#A5A5A5", "#FFC000", "#44546A", "#70AD47", "#00B0F0", "#BF9000", "#203864", "#9E480E"]
          },
          "legend": {
            "title": "400MHz帯", "orient": "none", "legendX": 723, "legendY": 38,
            "titleFontSize": 31, "titleFontWeight": "normal", "titleColor": "#000000", "titlePadding": 11,
            "labelFontSize": 13, "labelColor": "#595959", "labelLimit": 300, "labelOffset": 4,
            "symbolType": "circle", "symbolSize": 40, "symbolStrokeWidth": 0, "rowPadding": 11.3
          }
        }
      }
    },
    {
      "data": {"name": "baseLines"},
      "mark": {"type": "line", "strokeWidth": 7, "strokeCap": "round", "strokeJoin": "round"},
      "encoding": {
        "x": {"field": "d", "type": "quantitative", "title": "送信位置からの距離(m)", "scale": {"type": "log", "domain": [100, 100000], "nice": false}},
        "y": {
          "field": "v", "type": "quantitative", "scale": {"domain": [-140, -40], "nice": false},
          "axis": {
            "orient": "left", "labels": false, "ticks": false, "domain": false, "grid": false,
            "title": "(dBm)", "titleAngle": 90, "titleFontSize": 22, "titleFontWeight": "normal", "titleColor": "#000000",
            "titleX": -57, "titleY": 201, "titleAlign": "center", "titleBaseline": "middle"
          }
        },
        "stroke": {
          "field": "s", "type": "nominal", "legend": null,
          "scale": {
            "domain": ["400MHz自由空間伝搬損失", "400MHz２波モデル", "自由空間＋球面大地回折", "奥村秦式（大都市）", "奥村秦式（郊外）", "奥村秦式（開放地）"],
            "range": ["#44546A", "#70AD47", "#00B0F0", "#BF9000", "#203864", "#9E480E"]
          }
        }
      }
    },
    {
      "data": {"name": "okumuraLines"},
      "mark": {"type": "line", "strokeWidth": 7, "strokeCap": "round", "strokeJoin": "round"},
      "encoding": {
        "x": {"field": "d", "type": "quantitative", "title": "送信位置からの距離(m)", "scale": {"type": "log", "domain": [100, 100000], "nice": false}},
        "y": {"field": "v", "type": "quantitative", "scale": {"domain": [-140, -40], "nice": false}, "axis": null},
        "stroke": {
          "field": "s", "type": "nominal", "legend": null,
          "scale": {
            "domain": ["400MHz自由空間伝搬損失", "400MHz２波モデル", "自由空間＋球面大地回折", "奥村秦式（大都市）", "奥村秦式（郊外）", "奥村秦式（開放地）"],
            "range": ["#44546A", "#70AD47", "#00B0F0", "#BF9000", "#203864", "#9E480E"]
          }
        }
      }
    },
    {
      "data": {"name": "modelDots"},
      "mark": {"type": "point", "filled": true, "size": 40, "opacity": 1, "strokeWidth": 0},
      "encoding": {
        "x": {"field": "d", "type": "quantitative", "title": "送信位置からの距離(m)", "scale": {"type": "log", "domain": [100, 100000], "nice": false}},
        "y": {"field": "v", "type": "quantitative", "scale": {"domain": [-140, -40], "nice": false}, "axis": null},
        "color": {
          "field": "s", "type": "nominal",
          "scale": {
            "domain": ["SF=7　400MHz　7.8kHz", "SF=7　400MHz　15.6kHz", "400MHz自由空間伝搬損失", "400MHz２波モデル", "自由空間＋球面大地回折", "奥村秦式（大都市）", "奥村秦式（郊外）", "奥村秦式（開放地）"],
            "range": ["#A5A5A5", "#FFC000", "#44546A", "#70AD47", "#00B0F0", "#BF9000", "#203864", "#9E480E"]
          },
          "legend": {
            "title": "400MHz帯", "orient": "none", "legendX": 723, "legendY": 38,
            "titleFontSize": 31, "titleFontWeight": "normal", "titleColor": "#000000", "titlePadding": 11,
            "labelFontSize": 13, "labelColor": "#595959", "labelLimit": 300, "labelOffset": 4,
            "symbolType": "circle", "symbolSize": 40, "symbolStrokeWidth": 0, "rowPadding": 11.3
          }
        }
      }
    }
  ]
}
